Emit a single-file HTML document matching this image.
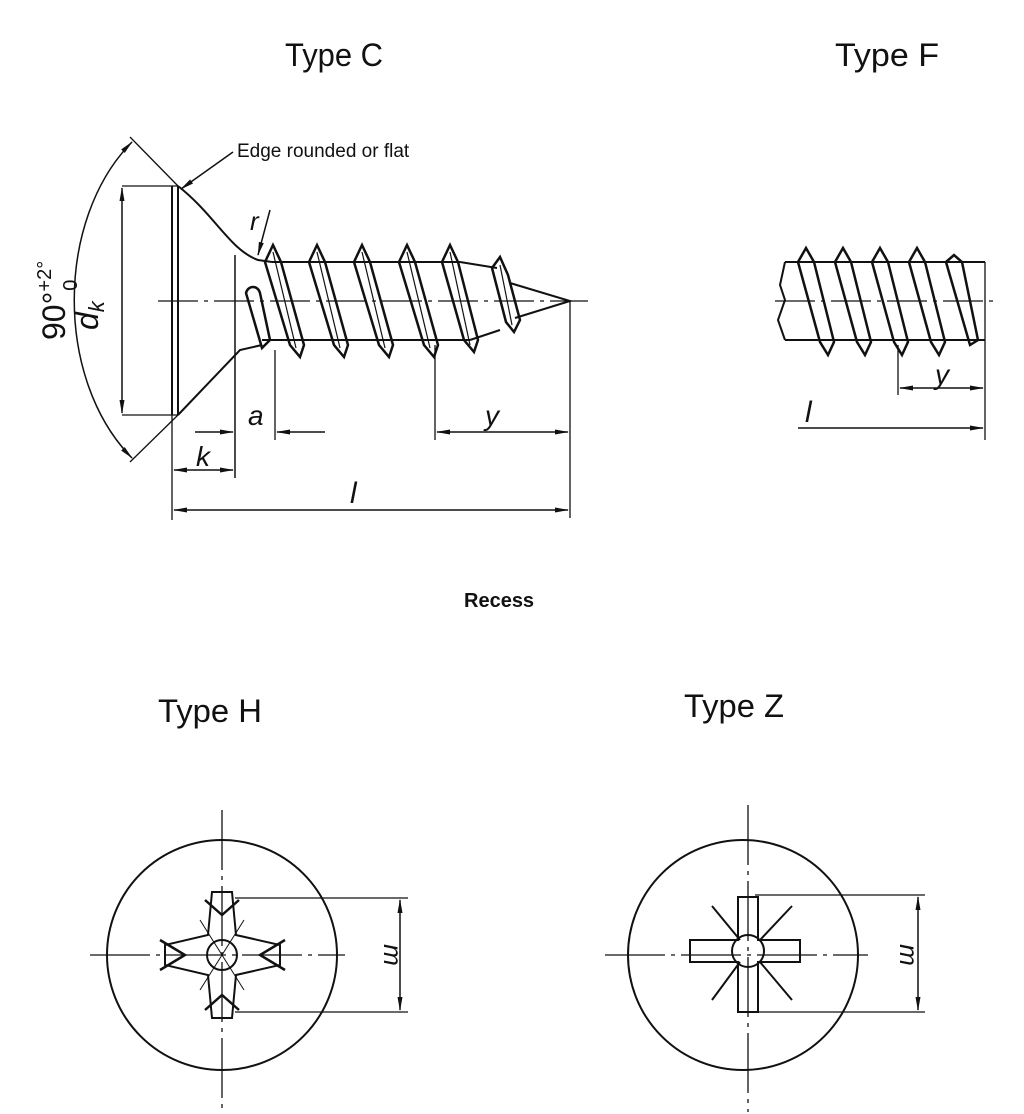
<!DOCTYPE html>
<html><head><meta charset="utf-8"><style>
html,body{margin:0;padding:0;background:#fff;}
svg{display:block}
text{font-family:"Liberation Sans","DejaVu Sans",sans-serif;fill:#111}
</style></head><body>
<svg width="1024" height="1114" viewBox="0 0 1024 1114" xmlns="http://www.w3.org/2000/svg">
<defs>
<marker id="a" markerWidth="14" markerHeight="8" refX="13" refY="4" orient="auto-start-reverse" markerUnits="userSpaceOnUse"><path d="M0,1.5 L14,4 L0,6.5 Z" fill="#111"/></marker>
</defs>
<g stroke="#111" fill="none" stroke-width="2">
<!-- Titles -->
</g>
<text x="285" y="66" font-size="32" textLength="98" lengthAdjust="spacingAndGlyphs">Type C</text>
<text x="835" y="66" font-size="32" textLength="104" lengthAdjust="spacingAndGlyphs">Type F</text>
<text x="237" y="157" font-size="19">Edge rounded or flat</text>
<text x="464" y="607" font-size="20" font-weight="bold">Recess</text>
<text x="158" y="722" font-size="32" textLength="104" lengthAdjust="spacingAndGlyphs">Type H</text>
<text x="684" y="717" font-size="32" textLength="100" lengthAdjust="spacingAndGlyphs">Type Z</text>

<g stroke="#111" fill="none" stroke-width="2">
<!-- center line -->
<line x1="158" y1="301" x2="588" y2="301" stroke-width="1.3" stroke-dasharray="40,6,4,6"/>
<!-- head -->
<line x1="172" y1="186" x2="172" y2="415"/>
<line x1="178" y1="186" x2="178" y2="415"/>
<path d="M178,186 C215,215 230,250 258,260 L272,262"/>
<path d="M178,415 L240,350 L262,345"/>
<line x1="235" y1="255" x2="235" y2="478" stroke-width="1.5"/>
<!-- shank -->
<line x1="272" y1="262" x2="460" y2="262"/>
<line x1="262" y1="340" x2="470" y2="340"/>
<path d="M460,262 L497,268 M470,340 L500,330 M510,283 L570,301 L515,318"/>
<!-- threads -->
<g stroke-width="2.5">
<path d="M265,262 L273,245 L281,262 L304,345 L300,357 L290,345 Z"/>
<path d="M309,262 L317,245 L325,262 L348,345 L344,357 L334,345 Z"/>
<path d="M354,262 L362,245 L370,262 L393,345 L389,357 L379,345 Z"/>
<path d="M399,262 L407,245 L415,262 L438,345 L434,357 L424,345 Z"/>
<path d="M442,262 L450,245 L458,262 L478,340 L474,352 L464,340 Z"/>
<path d="M492,268 L500,257 L508,275 L520,320 L514,332 L506,322 Z"/>
<path d="M246,293 C248,285 258,285 260,293 L270,340 L262,348 Z"/>
</g>
<g stroke-width="1.2">
<line x1="273" y1="252" x2="296" y2="348"/><line x1="317" y1="252" x2="340" y2="348"/>
<line x1="362" y1="252" x2="385" y2="348"/><line x1="407" y1="252" x2="430" y2="348"/>
<line x1="450" y1="252" x2="470" y2="345"/><line x1="500" y1="265" x2="512" y2="325"/>
</g>
<!-- extension lines -->
<g stroke-width="1.3">
<line x1="122" y1="186" x2="178" y2="186"/>
<line x1="122" y1="415" x2="178" y2="415"/>
<line x1="178" y1="186" x2="130" y2="137"/>
<line x1="178" y1="415" x2="130" y2="462"/>
<line x1="172" y1="415" x2="172" y2="520"/>
<line x1="275" y1="350" x2="275" y2="440"/>
<line x1="435" y1="345" x2="435" y2="440"/>
<line x1="570" y1="301" x2="570" y2="518"/>
</g>
<!-- dims -->
<g stroke-width="1.5">
<line x1="122" y1="188" x2="122" y2="413" marker-start="url(#a)" marker-end="url(#a)"/>
<path d="M132,142 C55,220 55,380 132,458" marker-start="url(#a)" marker-end="url(#a)"/>
<line x1="233" y1="152" x2="181" y2="189" marker-end="url(#a)"/>
<line x1="270" y1="210" x2="258" y2="255" marker-end="url(#a)"/>
<line x1="195" y1="432" x2="233" y2="432" marker-end="url(#a)"/>
<line x1="325" y1="432" x2="277" y2="432" marker-end="url(#a)"/>
<line x1="437" y1="432" x2="568" y2="432" marker-start="url(#a)" marker-end="url(#a)"/>
<line x1="174" y1="470" x2="233" y2="470" marker-start="url(#a)" marker-end="url(#a)"/>
<line x1="174" y1="510" x2="568" y2="510" marker-start="url(#a)" marker-end="url(#a)"/>
</g>
</g>
<text x="98" y="330" font-size="32" font-style="italic" transform="rotate(-90 98 330)">d<tspan font-size="22" dy="6">k</tspan></text>
<text x="65" y="340" font-size="32" transform="rotate(-90 65 340)">90°<tspan font-size="20" dy="-14">+2°</tspan><tspan font-size="20" dx="-30" dy="26">0</tspan></text>
<text x="250" y="230" font-size="26" font-style="italic">r</text>
<text x="248" y="425" font-size="28" font-style="italic">a</text>
<text x="485" y="425" font-size="28" font-style="italic">y</text>
<text x="196" y="466" font-size="28" font-style="italic">k</text>
<text x="350" y="503" font-size="30" font-style="italic">l</text>

<!-- Type F -->
<g stroke="#111" fill="none" stroke-width="2">
<line x1="775" y1="301" x2="998" y2="301" stroke-width="1.3" stroke-dasharray="40,6,4,6"/>
<line x1="785" y1="262" x2="975" y2="262"/>
<line x1="785" y1="340" x2="975" y2="340"/>
<path d="M785,262 L780,285 L785,300 L778,320 L785,340"/>
<line x1="985" y1="262" x2="985" y2="440" stroke-width="1.3"/>
<line x1="975" y1="262" x2="985" y2="262"/>
<line x1="975" y1="340" x2="985" y2="340"/>
<g stroke-width="2.5">
<path d="M798,262 L806,248 L814,262 L834,342 L828,355 L820,342 Z"/>
<path d="M835,262 L843,248 L851,262 L871,342 L865,355 L857,342 Z"/>
<path d="M872,262 L880,248 L888,262 L908,342 L902,355 L894,342 Z"/>
<path d="M909,262 L917,248 L925,262 L945,342 L939,355 L931,342 Z"/>
<path d="M946,262 L954,255 L962,262 L978,340 L970,345 Z"/>
</g>
<line x1="898" y1="345" x2="898" y2="395" stroke-width="1.3"/>
<line x1="900" y1="388" x2="983" y2="388" stroke-width="1.5" marker-start="url(#a)" marker-end="url(#a)"/>
<line x1="798" y1="428" x2="983" y2="428" stroke-width="1.5" marker-end="url(#a)"/>
</g>
<text x="935" y="384" font-size="28" font-style="italic">y</text>
<text x="805" y="422" font-size="30" font-style="italic">l</text>

<!-- Type H -->
<g stroke="#111" fill="none" stroke-width="2">
<circle cx="222" cy="955" r="115"/>
<line x1="222" y1="810" x2="222" y2="1112" stroke-width="1.3" stroke-dasharray="60,6,4,6"/>
<line x1="90" y1="955" x2="345" y2="955" stroke-width="1.3" stroke-dasharray="60,6,4,6"/>
<line x1="235" y1="898" x2="408" y2="898" stroke-width="1.3"/>
<line x1="235" y1="1012" x2="408" y2="1012" stroke-width="1.3"/>
<line x1="400" y1="900" x2="400" y2="1010" stroke-width="1.5" marker-start="url(#a)" marker-end="url(#a)"/>
<path d="M205,900 L222,915 L239,900 M205,1010 L222,995 L239,1010 M160,940 L185,955 L160,970 M285,940 L260,955 L285,970" stroke-width="2.5"/>
<path d="M212,892 L208,935 L165,945 L165,965 L208,975 L212,1018 L232,1018 L236,975 L280,965 L280,945 L236,935 L232,892 Z"/>
<circle cx="222" cy="955" r="15"/>
<path d="M200,920 L244,990 M244,920 L200,990" stroke-width="1"/>
</g>
<text x="384" y="955" font-size="26" font-style="italic" transform="rotate(90 384 955)" text-anchor="middle">m</text>

<!-- Type Z -->
<g stroke="#111" fill="none" stroke-width="2">
<circle cx="743" cy="955" r="115"/>
<line x1="748" y1="805" x2="748" y2="1112" stroke-width="1.3" stroke-dasharray="60,6,4,6"/>
<line x1="605" y1="955" x2="868" y2="955" stroke-width="1.3" stroke-dasharray="60,6,4,6"/>
<line x1="755" y1="895" x2="925" y2="895" stroke-width="1.3"/>
<line x1="755" y1="1012" x2="925" y2="1012" stroke-width="1.3"/>
<line x1="918" y1="897" x2="918" y2="1010" stroke-width="1.5" marker-start="url(#a)" marker-end="url(#a)"/>
<path d="M738,897 L758,897 L758,940 L800,940 L800,962 L758,962 L758,1012 L738,1012 L738,962 L690,962 L690,940 L738,940 Z"/>
<circle cx="748" cy="951" r="16"/>
<path d="M712,906 L740,940 M792,906 L760,940 M712,1000 L740,962 M792,1000 L760,962" stroke-width="2"/>
</g>
<text x="900" y="955" font-size="26" font-style="italic" transform="rotate(90 900 955)" text-anchor="middle">m</text>
</svg>
</body></html>
